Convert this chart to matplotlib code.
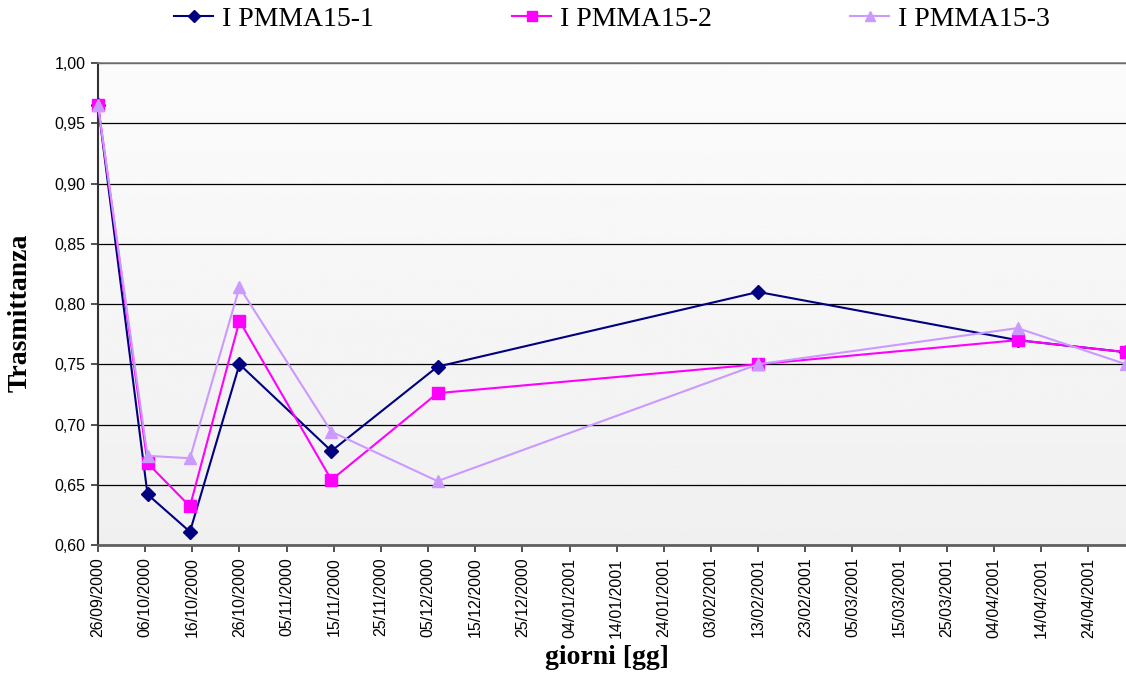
import numpy as np
import pandas as pd
import matplotlib
matplotlib.use("Agg")
import matplotlib.pyplot as plt
import matplotlib.dates as mdates
from matplotlib.ticker import FuncFormatter

# measurement dates (transmittance readings)
dates = pd.to_datetime([
    "2000-09-26 00:00", "2000-10-06 12:00", "2000-10-15 12:00", "2000-10-26 00:00",
    "2000-11-14 12:00", "2000-12-07 00:00", "2001-02-13 00:00", "2001-04-09 00:00",
    "2001-05-02 00:00",
], format="%Y-%m-%d %H:%M")

pmma_1 = [0.965, 0.642, 0.611, 0.750, 0.678, 0.748, 0.810, 0.770, 0.760]
pmma_2 = [0.965, 0.668, 0.632, 0.786, 0.654, 0.726, 0.750, 0.770, 0.760]
pmma_3 = [0.965, 0.674, 0.672, 0.814, 0.694, 0.653, 0.750, 0.780, 0.750]

labels = ["I PMMA15-1", "I PMMA15-2", "I PMMA15-3"]

W, H = 1126, 677
fig = plt.figure(figsize=(W / 100, H / 100), dpi=100)
ax = fig.add_axes([98 / W, 1 - 545 / H, 1 - 98 / W, 482 / H])

# soft vertical gradient behind the plot area
grad = np.linspace(0.985, 0.94, 256)[:, None]
ax.imshow(grad, cmap="gray", vmin=0, vmax=1, aspect="auto",
          extent=[0, 1, 0, 1], transform=ax.transAxes, zorder=-10)

series = [
    (pmma_1, "#000080", "D", 7),
    (pmma_2, "#ff00ff", "s", 8),
    (pmma_3, "#cc99ff", "^", 8),
]
for (vals, col, mk, ms), lab in zip(series, labels):
    ax.plot(dates, vals, color=col, lw=1.5, marker=mk, ms=ms,
            markeredgecolor=col, label=lab, clip_on=False, zorder=3)

ax.set_ylim(0.60, 1.00)
ax.set_yticks(np.arange(0.60, 1.0001, 0.05))
ax.yaxis.set_major_formatter(FuncFormatter(lambda v, _: f"{v:.2f}".replace(".", ",")))
ax.yaxis.grid(True, color="black", lw=0.9)
ax.set_axisbelow(True)

ax.set_xlim(dates[0], dates[-1])
ticks = pd.date_range("2000-09-26", "2001-05-02", freq="10D")
ax.set_xticks(ticks)
ax.xaxis.set_major_formatter(mdates.DateFormatter("%d/%m/%Y"))
plt.setp(ax.get_xticklabels(), rotation=90)

for t in ax.get_xticklabels() + ax.get_yticklabels():
    t.set_fontfamily("Liberation Sans")
    t.set_fontsize(11.5)
ax.tick_params(axis="both", direction="out", length=5, width=1.2, color="#333333")
ax.tick_params(axis="x", pad=4)
ax.tick_params(axis="y", pad=4)

ax.spines["right"].set_visible(False)
ax.spines["top"].set_color("#808080")
ax.spines["top"].set_linewidth(1.2)
ax.spines["left"].set_color("#333333")
ax.spines["left"].set_linewidth(1.5)
ax.spines["bottom"].set_color("#606060")
ax.spines["bottom"].set_linewidth(2)

fig.text(20 / W, 1 - 313 / H, "Trasmittanza", rotation=90, ha="center", va="center",
         family="Liberation Serif", weight="bold", fontsize=20)
fig.text(607 / W, 1 - 658 / H, "giorni [gg]", ha="center", va="center",
         family="Liberation Serif", weight="bold", fontsize=20)

fig.legend(loc="center", bbox_to_anchor=(612 / W, 1 - 19 / H), ncol=3, frameon=False,
           prop={"family": "Liberation Serif", "size": 20},
           handlelength=1.4, handletextpad=0.3, columnspacing=5.0, markerscale=0.85)

fig.savefig("out.png", dpi=100)
